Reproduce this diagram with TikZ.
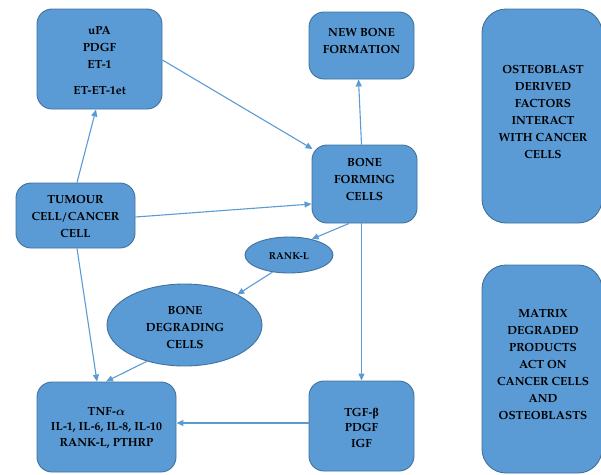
\documentclass[tikz,border=0pt]{standalone}
\usepackage{bm}
\usepackage{fontspec}
\setmainfont{TeX Gyre Pagella}
\newfontfamily\grk{Liberation Serif}
\usetikzlibrary{arrows.meta,shapes.geometric}
\definecolor{fillb}{HTML}{5B9BD5}
\definecolor{edgeb}{HTML}{41719C}
\definecolor{arrb}{HTML}{5B9BD5}
\tikzset{
  box/.style={draw=edgeb,fill=fillb,line width=0.9pt,rounded corners=15pt,inner sep=0pt},
  bigbox/.style={box,rounded corners=24pt},
  oval/.style={draw=edgeb,fill=fillb,line width=0.9pt,ellipse,inner sep=0pt},
  txt/.style={align=center,font=\bfseries\fontsize{11.8}{17}\selectfont,text=black,inner sep=0pt},
  txts/.style={align=center,font=\bfseries\fontsize{11.8}{15.5}\selectfont,text=black,inner sep=0pt},
  arr/.style={draw=arrb,line width=1.1pt,-{Triangle[length=7pt,width=6pt]}}
}
\begin{document}
\begin{tikzpicture}[x=1pt,y=-1pt]
\useasboundingbox (0,0) rectangle (601,474);
% boxes
\node[box,minimum width=125pt,minimum height=100pt] (upa) at (99.5,59) {};
\node[box,minimum width=119pt,minimum height=65pt] (tum) at (75.5,215.5) {};
\node[box,minimum width=105pt,minimum height=67pt] (nb) at (361.5,45.5) {};
\node[box,minimum width=105pt,minimum height=78pt] (bf) at (364.5,184) {};
\node[bigbox,minimum width=120pt,minimum height=214pt] (ost) at (542,116) {};
\node[oval,minimum width=88pt,minimum height=36pt] (rank) at (289,255) {};
\node[oval,minimum width=155pt,minimum height=82pt] (bdc) at (184.5,325) {};
\node[box,minimum width=139pt,minimum height=90pt] (tnf) at (106.5,427) {};
\node[box,minimum width=105pt,minimum height=90pt] (tgf) at (361.5,426) {};
\node[bigbox,minimum width=120pt,minimum height=208pt] (mat) at (542,369) {};
% texts
\node[txt] (tupa) at (99.5,47.5) {uPA\\PDGF\\ET-1};
\node[txt] (tupb) at (99.5,91) {ET-ET-1et};
\node[txt] (ttum) at (75.5,216.5) {TUMOUR\\CELL/CANCER\\CELL};
\node[txt] (tnb) at (361.5,40.5) {NEW BONE\\FORMATION};
\node[txt] (tbf) at (364.5,179) {BONE\\FORMING\\CELLS};
\node[txt] (tost) at (543,111.5) {OSTEOBLAST\\DERIVED\\FACTORS\\INTERACT\\WITH CANCER\\CELLS};
\node[txt,font=\bfseries\fontsize{10}{12}\selectfont] (trank) at (289,256) {RANK-L};
\node[txt] (tbdc) at (185,327.5) {BONE\\DEGRADING\\CELLS};
\node[txts] (ttnf) at (106.5,427.5) {TNF-$\bm{\alpha}$\\IL-1, IL-6, IL-8, IL-10\\RANK-L, PTHRP};
\node[txts] (ttgf) at (361.5,427.5) {TGF-{\grk\bfseries β}\\PDGF\\IGF};
\node[txt] (tmat) at (543,364.5) {MATRIX\\DEGRADED\\PRODUCTS\\ACT ON\\CANCER CELLS\\AND\\OSTEOBLASTS};
% arrows
\draw[arr] ([xshift=1.5pt]tum.north) -- ([xshift=-3.5pt]upa.south);
\draw[arr] ([yshift=-1pt]upa.east) -- ([xshift=1pt,yshift=35pt]bf.west);
\draw[arr] ([yshift=-1.5pt]tum.east) -- ([yshift=-20pt]bf.west);
\draw[arr] ([xshift=-3pt]bf.north) -- ([xshift=-3pt]nb.south);
\draw[arr] ([xshift=-15.5pt]bf.south) -- (rank.35);
\draw[arr] ([xshift=-3pt]bf.south) -- ([xshift=0pt]tgf.north);
\draw[arr] (rank.226) -- (bdc.30);
\draw[arr] ([xshift=1.5pt]tum.south) -- ([xshift=-9.5pt]tnf.north);
\draw[arr] (bdc.224) -- ([xshift=-0.5pt]tnf.north);
\draw[arr] ([yshift=3pt]tgf.west) -- ([yshift=4pt]tnf.east);
\end{tikzpicture}
\end{document}
